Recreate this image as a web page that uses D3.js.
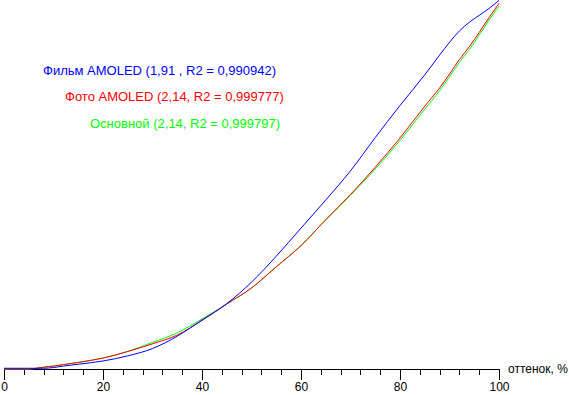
<!DOCTYPE html>
<html>
<head>
<meta charset="utf-8">
<script src="https://d3js.org/d3.v7.min.js"></script>
<style>
  body { margin: 0; background: #fff; }
  text { font-family: "Liberation Sans", Arial, sans-serif; }
</style>
</head>
<body>
<div id="chart-area"></div>
<script>
// shade levels, %
var levels = [0, 5, 8, 10, 12, 15, 20, 25, 30, 35, 40, 45, 50, 55, 60, 65, 70, 75, 80, 85, 88, 90, 92, 94, 96, 98, 100];

// brightness, %
var film = [0.2, 0.2, 0.2, 0.4, 0.8, 1.3, 2.2, 3.6, 5.6, 9.0, 13.4, 17.9, 23.8, 30.9, 38.6, 46.3, 54.3, 63.4, 72.2, 80.6, 86.0, 89.5, 92.6, 95.0, 96.9, 98.8, 101.0];
var photo = [0, 0, 0.5, 0.8, 1.2, 1.8, 3.0, 4.8, 6.9, 9.3, 13.3, 17.8, 22.2, 28.0, 33.8, 40.9, 47.8, 55.3, 63.3, 72.0, 77.0, 80.8, 84.8, 88.3, 92.2, 96.3, 100.2];
var basic = [0, 0, 0.5, 0.8, 1.2, 1.8, 3.0, 4.8, 7.3, 9.9, 13.7, 17.8, 22.2, 28.0, 33.8, 40.9, 47.6, 54.8, 62.6, 71.2, 76.2, 80.1, 84.0, 87.5, 91.5, 95.6, 99.4];

var seriesNames = ["Фильм AMOLED (1,91 , R2 = 0,990942)", "Фото AMOLED (2,14, R2 = 0,999777)", "Основной (2,14, R2 = 0,999797)"];
var xTicks = [0, 20, 40, 60, 80, 100];

var series = [
  { name: seriesNames[2], values: basic, color: "#00ff00" },
  { name: seriesNames[1], values: photo, color: "#ff0000" },
  { name: seriesNames[0], values: film, color: "#0000ff" }
];

var svg = d3.select("#chart-area")
  .append("svg")
  .attr("width", 569)
  .attr("height", 395);

var x = d3.scaleLinear()
  .domain([0, 100])
  .range([4, 499]);

var y = d3.scaleLinear()
  .domain([0, 100])
  .range([369, 4]);

// axis
var xAxisMinor = d3.axisBottom(x)
  .tickValues(d3.range(0, 101, 4))
  .tickSize(6)
  .tickFormat("");
svg.append("g")
  .attr("class", "x axis minor")
  .attr("transform", "translate(0,369)")
  .call(xAxisMinor);

var xAxisCall = d3.axisBottom(x)
  .tickValues(xTicks)
  .tickSize(11)
  .tickPadding(2)
  .tickSizeOuter(0);
svg.append("g")
  .attr("class", "x axis")
  .attr("transform", "translate(0,369)")
  .call(xAxisCall)
  .selectAll("text")
    .attr("font-size", "12px")
    .attr("font-family", "'Liberation Sans', Arial, sans-serif")
    .attr("fill", "black");

svg.selectAll(".domain, .tick line")
  .attr("stroke", "black")
  .attr("shape-rendering", "crispEdges");

svg.append("text")
  .attr("x", 508)
  .attr("y", 373)
  .attr("font-size", "12px")
  .text("оттенок, %");

// curves
var line = d3.line()
  .x((d, i) => x(levels[i]))
  .y(d => y(d))
  .curve(d3.curveMonotoneX);

svg.selectAll(".curve")
  .data(series)
  .enter()
  .append("path")
  .attr("class", "curve")
  .attr("d", d => line(d.values))
  .attr("fill", "none")
  .attr("stroke", d => d.color)
  .attr("stroke-width", 1);

// legend
var legendX = [43, 65, 90];
var legendY = [75, 101, 128];
var legendColors = ["#0000ff", "#ff0000", "#00ff00"];

svg.selectAll(".legend")
  .data(seriesNames)
  .enter()
  .append("text")
  .attr("class", "legend")
  .attr("x", (d, i) => legendX[i])
  .attr("y", (d, i) => legendY[i])
  .attr("font-size", "13px")
  .attr("fill", (d, i) => legendColors[i])
  .text(d => d);
</script>
</body>
</html>
